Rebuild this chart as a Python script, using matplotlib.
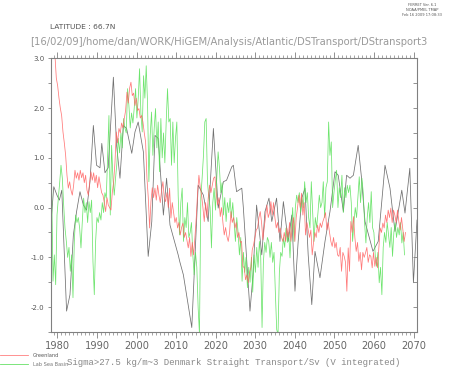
import matplotlib

matplotlib.use("Agg")
import matplotlib.pyplot as plt  # noqa: E402
import numpy as np  # noqa: E402
from matplotlib.lines import Line2D  # noqa: E402
from matplotlib.ticker import FuncFormatter, MultipleLocator  # noqa: E402

plt.rcParams["axes.unicode_minus"] = False

# Greenland transport, 3 samples per year
greenland_start, greenland_end = 1979.37, 2067.97
greenland = [
    3.05, 2.6, 2.45, 2.2, 2.0, 1.85, 1.52, 1.3, 1.05, 0.65, 0.39, 0.52,
    0.35, 0.25, 0.45, 0.75, 0.59, 0.7, 0.55, 0.75, 0.6, 0.7, 0.5, 0.65,
    0.35, 0.25, 0.5, 0.72, 0.55, 0.7, 0.5, 0.65, 0.4, 0.62, 0.45, 0.3,
    0.25, 0.1, -0.08, 0.2, 0.05, 0.0, -0.05, 0.3, 0.52, 0.9, 1.52, 1.3,
    1.59, 1.5, 1.7, 1.6, 1.79, 1.95, 2.32, 2.1, 2.4, 2.52, 2.25, 2.3,
    2.05, 2.2, 1.95, 1.99, 1.8, 1.85, 1.72, 1.5, 1.32, 0.59, 0.2, -0.41,
    0.12, 0.4, 0.2, 0.39, 0.15, 0.45, 0.25, 0.1, 0.35, 0.52, 0.2, 0.12,
    0.3, 0.0, 0.39, -0.21, 0.1, -0.1, -0.3, -0.2, -0.41, -0.3, -0.55, -0.4,
    -0.31, -0.6, -0.5, -0.65, -0.81, -0.6, -0.98, -0.7, -0.95, -0.6, -0.2, 0.3,
    0.65, 0.4, 0.25, 0.0, -0.28, 0.1, -0.2, 0.2, 0.45, 0.3, 0.45, 0.59,
    0.62, 0.3, 0.05, 0.2, -0.18, 0.0, -0.3, -0.55, -0.4, -0.58, -0.68, -0.5,
    -0.08, -0.3, -0.2, -0.41, -0.3, -0.6, -0.5, -0.7, -0.68, -1.18, -1.21, -1.45,
    -1.35, -1.51, -1.3, -1.2, -0.85, -0.75, -0.6, -0.45, -0.41, -0.2, -0.08, -0.3,
    -0.65, -0.4, -0.18, 0.05, -0.2, -0.1, 0.12, -0.15, 0.1, -0.2, -0.41, -0.3,
    -0.5, -0.41, -0.6, -0.68, -0.5, -0.68, -0.41, -0.6, -0.3, -0.68, -0.4, -0.2,
    -0.68, -0.2, 0.0, 0.25, 0.0, 0.29, -0.15, 0.1, -0.55, -0.3, -0.45, -0.6,
    -0.45, -0.95, -0.7, -0.5, -0.6, -0.35, -0.5, -0.31, -0.4, -0.28, -0.2, -0.1,
    -0.45, -0.3, -0.5, -0.68, -0.78, -0.6, -0.81, -0.7, -0.95, -0.98, -0.8, -1.28,
    -0.9, -0.98, -1.1, -1.68, -0.81, -1.28, -0.28, -0.5, -0.18, -0.6, -0.88, -0.7,
    -1.08, -0.9, -1.25, -0.9, -1.0, -0.91, -0.8, -1.1, -0.95, -0.98, -1.21, -0.9,
    -1.18, -1.0, -1.21, -0.8, -0.41, -0.5, -0.31, -0.41, -0.15, -0.3, -0.05, -0.2,
    -0.01, -0.3, -0.05, -0.15, -0.3, -0.05, -0.28, -0.45, -0.2, -0.45, -0.68, -0.5,
]

# Lab Sea transport, 3 samples per year
labsea_start, labsea_end = 1978.2, 2067.72
labsea = [
    1.59, 0.39, -1.48, -0.95, -1.55, -0.15, 0.19, 0.5, 0.85, 0.59, 0.05, -0.41,
    -0.68, -1.0, -0.8, -1.28, -0.95, -1.81, -0.68, -0.15, -0.3, -0.2, -0.41, -0.81,
    -0.28, 0.19, -0.1, 0.1, -0.3, 0.12, -0.1, 0.15, -1.08, -1.75, -0.68, -0.2,
    -0.3, -0.1, -0.25, 0.1, -0.1, 0.3, 0.19, 1.05, 1.85, -0.15, 1.25, 0.59,
    0.25, 0.6, 0.9, 1.39, 1.1, 1.5, 1.2, 1.79, 1.6, 1.5, 2.39, 2.05,
    1.6, 1.9, 1.7, 2.0, 2.39, 1.8, 2.2, 2.79, 1.9, 1.52, 2.65, 2.2,
    2.85, 2.1, 0.52, 1.45, 1.92, 1.05, 1.59, 1.99, 1.2, 1.72, 0.72, 1.79,
    1.0, 1.5, 0.9, 1.72, 2.39, 1.72, 1.79, 0.85, 1.72, 0.9, 1.4, 1.72,
    0.25, -0.55, 0.1, 0.39, -0.68, -0.2, -0.4, 0.1, -0.6, -0.5, -0.3, -0.95,
    -1.35, -0.9, -1.2, -2.01, -2.55, 0.2, 0.6, 1.05, 1.72, 1.79, 0.52, 0.2,
    0.0, -0.81, 0.1, 0.39, -0.05, 0.6, 1.12, 0.8, 0.3, 0.5, -0.15, 0.2,
    -0.28, 0.1, -0.1, 0.19, -0.2, 0.1, -0.3, -0.68, -0.2, -0.5, -0.95, -0.6,
    -1.48, -0.9, -1.3, -1.0, -1.61, -1.2, -1.5, -1.0, -1.7, -0.95, -1.3, -0.8,
    -1.2, -0.68, -1.0, -2.41, -1.1, -0.7, -0.9, -0.6, -0.68, -1.0, -0.7, -1.1,
    -0.9, -1.71, -2.45, -2.55, -1.3, -0.9, -0.98, -0.6, -0.8, -0.41, -0.7, -0.5,
    -1.01, -0.41, 0.0, -0.68, 0.0, 0.25, 0.1, 0.3, -0.1, 0.2, 0.0, 0.52,
    0.1, 0.3, -0.2, -0.41, 0.52, -0.1, -0.68, -0.2, -0.4, -0.1, 0.25, 0.0,
    0.1, 0.52, -0.2, 0.4, 0.52, 1.72, 1.05, 1.32, 0.0, 0.3, 0.55, 0.75,
    0.0, 0.4, 0.2, 0.65, -0.1, 0.4, 0.2, 0.45, 0.3, 0.45, 0.1, -0.68,
    -0.3, 0.0, -0.2, 0.2, 0.62, 0.1, 0.59, 0.3, -0.3, -0.71, -0.2, 0.1,
    -0.3, 0.32, -0.4, -0.5, -0.95, -1.18, -0.9, -1.51, -1.2, -1.75, -0.8, -0.5,
    -0.7, -0.3, -0.55, -0.8, -0.4, -0.98, -0.5, -0.3, -0.6, -0.4, -0.55, -0.3,
    -0.71, -0.5, -0.95,
]

# third (unlabelled) series, roughly annual
grey_years = [
    1978.46, 1979.07, 1979.87, 1980.48, 1981.09, 1982.30, 1983.16, 1984.02,
    1984.83, 1985.69, 1986.55, 1987.36, 1988.22, 1989.07, 1989.88, 1990.74,
    1991.20, 1992.01, 1992.82, 1994.13, 1994.94, 1995.80, 1996.66, 1997.47,
    1998.78, 1999.59, 2000.40, 2001.71, 2002.93, 2003.84, 2004.65, 2005.45,
    2006.77, 2007.58, 2008.44, 2010.51, 2010.96, 2011.82, 2013.95, 2015.57,
    2016.88, 2018.09, 2019.41, 2020.62, 2021.94, 2022.74, 2024.06, 2024.46,
    2025.27, 2026.59, 2026.99, 2028.66, 2029.42, 2030.33, 2031.64, 2032.45,
    2033.46, 2034.17, 2035.38, 2036.24, 2037.10, 2038.32, 2039.23, 2040.03,
    2040.84, 2041.75, 2042.56, 2043.37, 2044.28, 2045.09, 2046.35, 2047.62,
    2048.88, 2050.15, 2050.96, 2052.27, 2053.08, 2053.94, 2054.80, 2056.01,
    2056.82, 2057.73, 2059.75, 2061.07, 2062.79, 2064.05, 2065.31, 2067.03,
    2067.84, 2069.06, 2069.97, 2070.88,
]
grey_vals = [
    -0.2, 0.42, 0.25, 0.15, 0.35, -2.08, -1.75, -0.55,
    -0.08, 0.32, 0.05, -0.05, 0.52, 1.65, 0.85, 0.8,
    1.29, 0.7, 0.8, 2.62, 1.25, 0.59, 1.65, 1.59,
    1.09, 1.52, 1.72, 1.12, -0.98, -0.28, 1.45, 1.39,
    -0.15, 0.59, -0.35, -0.95, -1.1, -1.35, -2.41, 0.45,
    0.25, -0.28, 1.59, -0.01, 0.52, 0.55, 0.82, 0.85,
    0.32, 0.39, -0.01, -2.08, -1.35, 0.05, -0.95, -0.08,
    0.19, -0.28, 0.19, -0.68, 0.12, -0.68, -0.15, -1.68,
    -0.68, 0.19, 0.39, -0.95, -1.95, -0.88, -1.41, -0.68,
    -0.08, 0.72, 0.65, -0.08, 0.65, 0.59, 0.65, 1.25,
    0.62, -0.28, -0.88, -0.68, 0.85, 0.39, -0.48, 0.35,
    -0.11, 0.79, -1.51, -0.25,
]

title_path = "[16/02/09]/home/dan/WORK/HiGEM/Analysis/Atlantic/DSTransport/DStransport3"
x_label = "Sigma>27.5 kg/m~3 Denmark Straight Transport/Sv (V integrated)"

fig = plt.figure(figsize=(4.52, 3.68), dpi=100)
ax = fig.add_axes([0.1128, 0.0978, 0.8098, 0.7438])

t_green = np.linspace(greenland_start, greenland_end, len(greenland))
t_lab = np.linspace(labsea_start, labsea_end, len(labsea))

ax.plot(grey_years, grey_vals, color="#707070", lw=0.55)
ax.plot(t_lab, labsea, color="#55e055", lw=0.55, alpha=0.85)
ax.plot(t_green, greenland, color="#ff6060", lw=0.55, alpha=0.85)

ax.set_xlim(1978.36, 2070.88)
ax.set_ylim(-2.5, 3.0)

axis_col = "#808080"
for s in ax.spines.values():
    s.set_color(axis_col)
    s.set_linewidth(0.8)

ax.xaxis.set_major_locator(MultipleLocator(10))
ax.xaxis.set_minor_locator(MultipleLocator(1))
ax.yaxis.set_major_locator(MultipleLocator(0.5))
ax.yaxis.set_major_formatter(
    FuncFormatter(lambda v, p: "%.1f" % v if abs(v - round(v)) < 1e-6 else "")
)
ax.tick_params(axis="x", which="both", direction="out", top=True, bottom=True,
               colors=axis_col, labelcolor="#666666", labelsize=7.1, pad=2)
ax.tick_params(axis="x", which="major", length=4.5, width=0.6)
ax.tick_params(axis="x", which="minor", length=2.5, width=0.5)
ax.tick_params(axis="y", which="major", direction="out", left=True, right=False,
               length=2.5, width=0.6, colors=axis_col, labelcolor="#555555",
               labelsize=5, pad=2)

# right side ticks point inwards
ax_r = ax.twinx()
ax_r.set_ylim(ax.get_ylim())
ax_r.yaxis.set_major_locator(MultipleLocator(0.5))
ax_r.tick_params(axis="y", direction="in", length=3, width=0.6, colors=axis_col,
                 labelright=False)
for s in ax_r.spines.values():
    s.set_visible(False)

fig.text(0.1106, 0.9266, "LATITUDE : 66.7N", fontsize=5.4, color="#555555",
         ha="left", va="center")
fig.text(0.5055, 0.8859, title_path, fontsize=7.2, color="#9a9a9a",
         ha="center", va="center")
fig.text(0.934, 0.991, "FERRET Ver. 6.1\nNOAA/PMEL TMAP\nFeb 16 2009 17:08:33",
         fontsize=2.6, color="#555555", ha="center", va="top", linespacing=1.3)

fig.text(0.5166, 0.0136, x_label, fontsize=6.5, color="#888888",
         family="Liberation Mono", ha="center", va="center")

# legend entries at the bottom-left
fig.add_artist(Line2D([0.0, 0.062], [0.0353, 0.0353], color="#ff8080", lw=0.6))
fig.add_artist(Line2D([0.0, 0.062], [0.0109, 0.0109], color="#66e066", lw=0.6))
fig.text(0.073, 0.0335, "Greenland", fontsize=3.6, color="#555555",
         ha="left", va="center")
fig.text(0.073, 0.0100, "Lab Sea Basin", fontsize=3.6, color="#777777",
         ha="left", va="center")

fig.savefig("out.png", dpi=100)
